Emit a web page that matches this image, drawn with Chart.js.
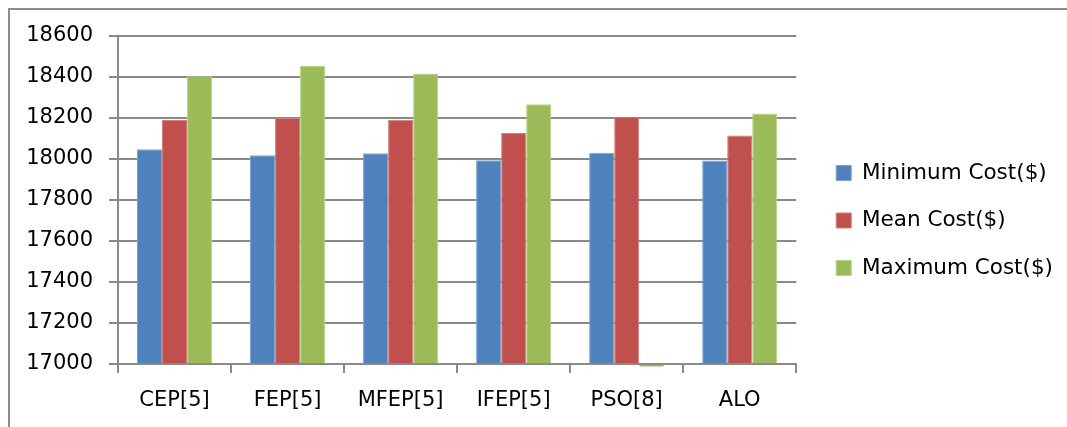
<!DOCTYPE html>
<html>
<head>
<meta charset="utf-8">
<script src="https://cdn.jsdelivr.net/npm/chart.js@4/dist/chart.umd.min.js"></script>
<style>
  html, body { margin: 0; padding: 0; background: #fff; overflow: hidden; }
  #wrap { position: relative; width: 1067px; height: 427px; overflow: hidden; }
  #frame {
    position: absolute; left: 8px; top: 8px; width: 1100px; height: 500px;
    border-top: 2px solid #8c8c8c; border-left: 2px solid #8c8c8c;
  }
  #costChart { position: absolute; left: 0; top: 0; }
</style>
</head>
<body>
<div id="wrap">
  <div id="frame"></div>
  <canvas id="costChart" width="1067" height="427"></canvas>
</div>
<script>
const methods = ['CEP[5]', 'FEP[5]', 'MFEP[5]', 'IFEP[5]', 'PSO[8]', 'ALO'];
const minCost = [18048, 18018, 18028, 17994, 18030, 17993];
const meanCost = [18190, 18200, 18192, 18127, 18206, 18115];
// PSO[8] has no maximum reported, so it sits at 0 below the axis
const maxCost = [18404, 18454, 18417, 18267, 0, 18222];
const yTicks = [17000, 17200, 17400, 17600, 17800, 18000, 18200, 18400, 18600];

const axisGray = '#8a8a8a';
const tickFont = { family: 'DejaVu Sans', size: 21 };
const legendFont = { family: 'DejaVu Sans', size: 21.5 };

// push the legend a bit away from the plot and up towards the middle
const legendNudge = {
    id: 'legendNudge',
    afterLayout(chart) {
        const lg = chart.legend;
        lg.left += 14;
        lg.right += 14;
        lg.top -= 11;
        lg.bottom -= 11;
    }
};

const ctx = document.getElementById('costChart').getContext('2d');
const chart = new Chart(ctx, {
    type: 'bar',
    data: {
        labels: methods,
        datasets: [
            {
                label: 'Minimum Cost($)',
                data: minCost,
                backgroundColor: '#4f81bd',
                borderColor: '#7ea1cf',
                borderWidth: 1
            },
            {
                label: 'Mean Cost($)',
                data: meanCost,
                backgroundColor: '#c0504d',
                borderColor: '#d47e7b',
                borderWidth: 1
            },
            {
                label: 'Maximum Cost($)',
                data: maxCost,
                backgroundColor: '#9bbb59',
                borderColor: '#b8d287',
                borderWidth: 1,
                // let the empty PSO bar show as a sliver under the axis
                clip: { left: 0, top: 0, right: 0, bottom: 2.5 }
            }
        ]
    },
    options: {
        responsive: false,
        animation: false,
        datasets: {
            bar: { categoryPercentage: 0.664, barPercentage: 1, base: yTicks[0] }
        },
        layout: {
            padding: { left: 10, top: 36, right: 18, bottom: 0 }
        },
        plugins: {
            tooltip: { enabled: false },
            legend: {
                position: 'right',
                labels: {
                    color: '#000',
                    font: legendFont,
                    boxWidth: 15,
                    boxHeight: 15,
                    padding: 26
                }
            }
        },
        scales: {
            x: {
                grid: {
                    offset: true,
                    drawOnChartArea: false,
                    drawTicks: true,
                    tickLength: 9,
                    color: axisGray,
                    lineWidth: 2
                },
                border: { color: axisGray, width: 2 },
                ticks: { color: '#000', font: tickFont, padding: 15 },
                afterFit: function (scale) { scale.height = 63; }
            },
            y: {
                min: yTicks[0],
                max: yTicks[yTicks.length - 1],
                grid: {
                    color: axisGray,
                    lineWidth: 2,
                    tickLength: 9
                },
                border: { color: axisGray, width: 2 },
                afterBuildTicks: function (scale) {
                    scale.ticks = yTicks.map(v => ({ value: v }));
                },
                ticks: {
                    color: '#000',
                    font: tickFont,
                    padding: 16,
                    callback: function (value) { return String(value); }
                },
                afterFit: function (scale) { scale.width = 108; }
            }
        }
    },
    plugins: [legendNudge]
});
</script>
</body>
</html>
